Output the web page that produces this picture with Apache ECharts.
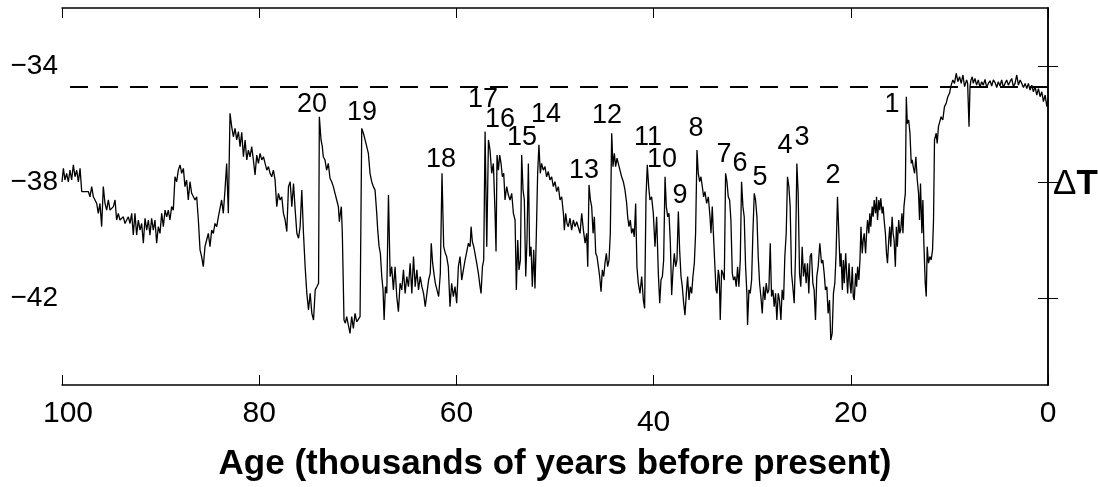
<!DOCTYPE html>
<html>
<head>
<meta charset="utf-8">
<script src="https://cdn.jsdelivr.net/npm/echarts@6/dist/echarts.min.js"></script>
<style>
html,body{margin:0;padding:0;background:#fff;}
#chart{width:1098px;height:487px;}
</style>
</head>
<body>
<div id="chart"></div>
<script>
// Age (thousands of years before present)
const ages = [
100.0,99.86,99.70,99.53,99.36,99.19,99.02,98.85,98.68,98.51,98.34,98.17,98.0,97.84,97.67,97.50,97.33,97.16,96.99,96.82,
96.65,96.48,96.32,96.15,95.98,95.81,95.64,95.47,95.30,95.13,94.96,94.79,94.62,94.46,94.29,94.12,93.95,93.78,93.61,93.44,
93.27,93.10,92.93,92.77,92.60,92.43,92.26,92.09,91.92,91.75,91.58,91.41,91.24,91.08,90.91,90.74,90.57,90.40,90.23,90.06,
89.89,89.72,89.55,89.38,89.22,89.05,88.88,88.71,88.54,88.37,88.20,88.03,87.86,87.69,87.53,87.36,
87.19,87.02,86.85,86.68,86.51,86.34,86.17,86.0,85.84,85.67,85.50,85.33,85.16,84.99,84.82,84.65,84.48,84.31,84.14,83.97,
83.81,83.64,83.47,83.30,83.13,82.96,82.79,82.62,82.45,82.28,82.11,81.94,81.77,81.60,81.43,81.26,81.10,80.93,80.76,80.59,
80.42,80.25,80.08,79.91,79.74,79.57,79.40,79.23,79.06,78.90,78.73,78.56,78.39,78.22,78.05,77.88,77.71,77.54,77.37,77.20,
77.03,76.86,76.69,76.52,76.35,76.18,76.01,75.85,75.68,75.51,75.34,75.17,75.0,74.83,74.66,74.49,74.32,74.15,73.98,
73.90,73.73,73.60,73.50,73.33,73.16,72.99,72.82,72.65,72.48,72.31,72.14,71.97,71.87,71.77,71.67,71.57,71.40,71.26,71.13,
70.96,70.79,70.62,70.45,70.28,70.11,69.94,69.77,69.60,69.43,69.26,69.09,68.93,68.76,68.59,68.42,68.25,68.08,67.98,67.84,
67.71,67.57,67.44,67.33,67.20,67.06,66.89,66.72,66.56,66.39,66.22,66.05,65.88,65.71,65.54,65.37,65.20,65.03,64.86,64.69,
64.52,64.35,64.18,64.01,63.84,63.67,63.50,63.33,63.16,62.99,62.82,62.65,62.55,62.41,62.28,62.14,61.97,61.80,61.63,61.46,
61.29,61.12,60.99,60.82,60.65,60.48,60.31,60.14,59.97,59.80,59.63,59.46,59.29,59.12,58.95,58.78,58.61,58.51,58.38,58.24,
58.11,57.94,57.77,57.60,57.50,57.36,57.23,57.09,56.92,56.75,56.59,56.42,56.25,56.08,55.98,55.88,55.74,55.61,55.47,55.34,
55.20,55.07,54.90,54.73,54.56,54.39,54.22,54.05,53.92,53.78,53.65,53.51,53.38,53.24,53.11,52.97,52.84,52.70,52.57,52.43,
52.30,52.16,52.03,51.89,51.76,51.63,51.49,51.36,51.19,51.02,50.85,50.68,50.51,50.34,50.17,50.0,49.83,49.66,49.49,49.32,
49.15,49.05,48.92,48.78,48.65,48.48,48.31,48.14,47.97,47.80,
47.63,47.46,47.29,47.12,46.95,46.79,46.68,46.55,46.41,46.28,46.14,46.01,45.87,45.74,45.60,45.47,45.33,45.20,45.06,44.93,
44.79,44.66,44.52,44.39,44.25,44.12,43.98,43.85,43.71,43.58,43.41,43.24,43.07,42.90,42.73,42.63,42.50,42.36,42.23,42.09,
41.96,41.82,41.69,41.55,41.38,41.21,41.04,40.91,40.77,40.64,40.50,40.37,40.20,40.03,39.86,39.69,39.52,39.38,39.25,39.11,
38.98,38.84,38.71,38.57,38.44,38.30,38.17,38.03,37.90,37.76,37.63,37.49,37.36,37.22,37.09,36.95,36.82,36.68,36.55,36.41,
36.28,36.14,36.01,35.87,35.74,35.60,35.47,35.33,35.20,35.06,34.93,34.79,34.62,
34.45,34.28,34.18,34.05,33.95,33.78,33.67,33.57,33.44,33.34,33.24,33.10,32.97,32.83,32.70,32.56,32.43,32.29,32.16,32.02,
31.89,31.75,31.62,31.48,31.35,31.21,31.08,30.94,30.81,30.67,30.54,30.47,30.33,30.20,30.06,29.93,29.79,29.66,29.52,29.39,
29.25,29.12,28.98,28.85,28.71,28.58,28.44,28.31,28.17,28.04,27.90,27.77,27.63,27.50,27.36,27.23,27.09,26.96,26.82,26.69,
26.55,26.42,26.28,26.15,26.01,25.88,25.74,25.61,25.47,25.34,25.20,25.07,24.93,24.80,24.66,24.53,24.39,24.26,24.12,23.99,
23.85,23.72,23.58,23.45,23.31,23.14,22.97,22.84,22.70,22.57,22.43,22.30,22.16,22.03,21.89,21.76,21.62,21.49,21.35,
21.19,21.09,20.99,20.86,20.76,20.66,20.52,20.42,20.32,20.18,20.08,19.98,19.85,19.75,19.65,19.51,19.41,19.31,19.18,19.07,
18.97,18.84,18.74,18.64,18.50,18.40,18.30,18.17,18.07,17.97,17.83,17.73,17.63,17.49,17.39,17.29,17.16,17.06,16.96,16.82,
16.72,16.62,16.49,16.38,16.28,16.15,16.05,15.95,15.81,15.71,15.61,15.48,15.38,15.28,15.14,15.04,14.94,14.81,14.71,14.61,
14.47,14.37,14.27,14.13,14.00,13.87,13.77,13.67,13.53,13.40,13.26,13.13,13.03,12.93,12.79,12.69,12.59,12.45,12.35,12.25,
12.12,11.98,11.85,11.71,11.61,11.51,11.34,11.24,11.11,10.97,10.84,10.67,10.50,10.33,10.16,9.99,9.82,9.65,9.48,9.31,
9.14,8.97,8.80,8.63,8.46,8.25,8.15,8.01,7.91,7.81,7.68,7.58,7.41,7.24,7.07,6.90,6.73,6.56,6.39,6.22,
6.05,5.88,5.71,5.54,5.37,5.20,5.04,4.87,4.70,4.53,4.36,4.19,4.02,3.85,3.68,3.51,3.34,3.17,3.00,2.83,
2.66,2.49,2.32,2.15,1.99,1.82,1.65,1.48,1.31,1.14,0.97,0.80,0.63,0.46,0.29,0.12,0.0
];
// Temperature anomaly (ΔT)
const temps = [
-38.0,-37.53,-37.93,-37.70,-38.0,-37.59,-37.93,-37.41,-37.82,-37.59,-38.0,-37.53,-38.33,-38.28,-38.33,-38.39,-38.33,-38.51,-38.16,-38.51,
-38.62,-38.74,-39.08,-38.74,-39.54,-38.16,-38.74,-38.97,-38.62,-38.97,-38.91,-38.85,-38.62,-39.31,-39.08,-39.31,-39.37,-39.20,-39.43,-39.31,
-39.20,-39.43,-39.08,-39.83,-39.08,-39.83,-39.31,-39.66,-39.43,-40.11,-39.25,-39.66,-39.31,-39.83,-39.25,-39.66,-39.31,-40.11,-39.54,-39.77,
-39.08,-39.54,-38.97,-39.20,-38.97,-39.31,-38.85,-38.97,-37.82,-37.99,-37.59,-37.41,-37.70,-37.53,-38.16,-37.93,
-38.62,-37.99,-38.39,-38.33,-38.62,-38.51,-39.31,-40.34,-40.57,-40.92,-40.23,-40.0,-39.77,-40.23,-39.66,-39.77,-39.43,-39.54,-39.20,-39.14,
-38.62,-39.08,-38.28,-37.36,-39.08,-35.63,-36.09,-36.44,-36.15,-36.55,-36.26,-36.78,-36.29,-37.13,-36.55,-37.24,-36.90,-37.13,-36.78,-37.24,
-37.76,-37.07,-37.36,-37.01,-37.24,-37.13,-37.36,-37.59,-37.47,-37.70,-37.82,-37.59,-37.93,-38.85,-38.39,-38.62,-38.51,-39.08,-39.31,-39.71,
-38.16,-37.99,-38.85,-38.05,-38.97,-39.77,-39.94,-39.54,-38.28,-39.77,-40.92,-41.84,-42.41,-41.84,-42.53,-42.76,-41.72,-41.61,-41.49,
-35.75,-36.55,-36.78,-37.13,-37.24,-37.59,-37.36,-37.87,-37.99,-38.16,-38.39,-38.62,-38.85,-39.37,-39.08,-38.85,-39.77,-42.76,-42.87,-42.64,
-42.93,-43.22,-42.64,-43.05,-42.53,-42.82,-42.87,-42.64,-36.15,-36.32,-36.55,-36.78,-37.01,-37.70,-37.99,-38.16,-38.28,-39.08,-39.66,-40.23,
-40.46,-41.26,-41.72,-42.76,-41.61,-41.84,-38.45,-41.26,-40.92,-41.72,-40.92,-41.95,-42.47,-41.49,-41.72,-41.03,-41.84,-41.26,-41.61,-40.80,
-41.84,-40.57,-41.61,-41.03,-41.72,-41.26,-41.61,-41.84,-42.30,-41.84,-41.38,-41.15,-40.11,-40.80,-41.15,-41.49,-41.72,-41.95,-41.15,-37.70,
-40.23,-40.46,-40.57,-40.92,-42.30,-41.49,-41.95,-41.61,-42.18,-40.92,-40.57,-41.38,-41.03,-40.69,-40.40,-40.11,-40.23,-39.54,-40.06,-40.23,
-40.17,-40.80,-41.15,-41.61,-41.84,-40.92,-40.69,-36.26,-40.23,-36.55,-36.90,-37.70,-37.36,-39.08,-40.40,-37.07,-37.59,-37.07,-37.36,-37.82,
-37.70,-38.62,-38.16,-38.45,-38.62,-38.39,-39.08,-39.31,-41.72,-40.0,-41.03,-40.69,-37.07,-38.28,-38.62,-41.26,-40.0,-37.36,-40.57,-40.23,
-41.61,-40.34,-41.67,-39.77,-37.70,-36.72,-37.70,-37.36,-37.59,-37.47,-37.82,-37.64,-37.93,-37.82,-38.16,-37.99,-38.33,-38.16,-38.62,-38.51,
-39.08,-39.66,-39.08,-39.43,-39.54,-39.25,-39.66,-39.31,-39.54,-39.37,
-39.31,-39.77,-39.08,-39.66,-40.11,-39.77,-40.92,-38.10,-38.62,-38.85,-39.77,-39.20,-40.46,-40.57,-40.92,-41.26,-41.78,-41.03,-41.26,-40.80,
-40.46,-40.92,-40.69,-39.77,-36.32,-37.47,-37.01,-37.47,-37.18,-37.36,-37.59,-37.82,-37.99,-38.28,-38.74,-39.20,-39.54,-39.31,-39.77,-39.60,
-39.89,-38.74,-40.92,-41.49,-41.84,-41.26,-42.07,-42.36,-38.51,-37.41,-38.16,-38.62,-38.51,-39.08,-40.23,-39.20,-41.15,-42.18,-41.38,-41.26,
-40.69,-37.82,-38.85,-39.20,-39.08,-40.11,-41.90,-41.03,-40.46,-40.92,-40.69,-39.02,-40.34,-41.26,-41.61,-42.18,-42.59,-41.84,-41.26,-42.07,
-41.61,-41.84,-41.26,-40.80,-39.77,-36.90,-37.70,-37.99,-37.82,-38.16,-38.51,-38.33,-38.74,
-38.51,-39.20,-39.77,-38.85,-39.66,-40.92,-41.72,-41.84,-41.03,-41.26,-42.76,-41.03,-41.15,-41.38,-37.70,-37.99,-38.51,-38.62,-39.31,-41.15,
-41.38,-41.26,-41.61,-40.92,-41.61,-40.69,-37.99,-38.85,-39.20,-40.92,-41.84,-42.93,-41.72,-41.84,-41.38,-39.77,-38.39,-38.62,-39.20,-40.57,
-41.49,-41.95,-42.53,-41.61,-42.07,-41.49,-41.84,-41.72,-40.11,-41.95,-41.72,-42.30,-41.84,-42.76,-41.84,-42.07,-42.76,-41.72,-42.07,-40.57,
-39.77,-37.82,-38.16,-38.85,-41.15,-41.61,-42.18,-40.57,-37.36,-38.39,-41.15,-41.61,-40.23,-41.26,-40.80,-41.49,-40.80,-41.84,-40.57,-40.46,
-41.49,-41.72,-42.76,-41.26,-40.92,-40.11,-40.80,-40.69,-41.15,-41.72,-41.61,-42.53,-42.07,-43.45,-43.22,-41.84,-41.49,-40.46,-38.51,
-40.0,-40.92,-40.46,-41.72,-40.69,-41.49,-40.46,-41.15,-41.84,-40.80,-41.49,-41.84,-40.92,-41.95,-42.07,-41.15,-41.61,-40.92,-41.38,-40.69,
-39.54,-40.46,-40.0,-39.77,-40.46,-39.77,-39.31,-39.77,-39.08,-39.54,-38.85,-39.20,-38.62,-39.08,-38.51,-39.31,-38.62,-38.97,-38.56,-39.08,
-38.85,-39.31,-39.77,-40.46,-40.80,-40.0,-39.54,-40.23,-39.20,-39.77,-40.0,-40.92,-39.54,-40.23,-39.31,-39.77,-39.66,-39.08,-39.77,-38.85,
-38.39,-35.06,-35.98,-35.86,-36.32,-37.36,-37.24,-37.47,-37.70,-37.13,-37.93,-38.39,-39.31,-38.05,-39.77,-38.62,-40.11,-41.49,-41.95,-40.23,
-40.80,-40.57,-40.69,-40.34,-39.31,-36.55,-36.32,-36.67,-36.09,-36.09,-35.75,-35.86,-35.40,-35.29,-35.06,-34.94,-34.66,-34.48,-34.60,-34.25,
-34.54,-34.37,-34.60,-34.31,-34.71,-34.48,-34.60,-36.09,-34.71,-34.48,-34.37,-34.60,-34.43,-34.66,-34.48,-34.74,-34.54,-34.66,-34.46,-34.74,
-34.60,-34.51,-34.69,-34.48,-34.57,-34.74,-34.54,-34.69,-34.48,-34.74,-34.60,-34.48,-34.66,-34.54,-34.43,-34.71,-34.60,-34.31,-34.66,-34.48,
-34.60,-34.74,-34.60,-34.78,-34.60,-34.83,-34.66,-34.89,-34.71,-35.00,-34.78,-35.06,-34.89,-35.23,-35.00,-35.40,-35.11
];
// Interstadial event labels and where they sit (age, ΔT)
const peakNames = ['20','19','18','17','16','15','14','13','12','11','10','9','8','7','6','5','4','3','2','1'];
const peakAges  = [74.65,69.57,61.56,57.30,55.58,53.35,50.91,47.06,44.73,40.57,39.15,37.32,35.70,32.86,31.24,29.21,26.67,24.95,21.81,15.82];
const peakTemps = [-35.34,-35.62,-37.24,-35.17,-35.86,-36.48,-35.69,-37.59,-35.72,-36.45,-37.24,-38.48,-36.14,-37.07,-37.38,-37.83,-36.76,-36.45,-37.79,-35.34];
const holoceneMean = -34.7;
const yTicks = [-42, -38, -34];
const xMin = 0, xMax = 100, xStep = 20;
const yMin = -45, yMax = -32;

const FONT = "'Liberation Sans', Arial, Helvetica, sans-serif";
const chart = echarts.init(document.getElementById('chart'), null, {renderer: 'canvas'});
const lineData = ages.map((a, i) => [a, temps[i]]);
const peakData = peakAges.map((a, i) => [a, peakTemps[i], peakNames[i]]);

const axisLine = {show: true, lineStyle: {color: '#000', width: 1.5}};
const tick = {show: true, inside: true, length: 10, lineStyle: {color: '#000', width: 1}};

chart.setOption({
  animation: false,
  backgroundColor: '#fff',
  grid: {left: 62, right: 50, top: 8, bottom: 102, containLabel: false, outerBoundsMode: 'none'},
  xAxis: [{
    type: 'value', min: xMin, max: xMax, interval: xStep, inverse: true, position: 'bottom',
    axisLine: axisLine, axisTick: tick, splitLine: {show: false},
    axisLabel: {
      margin: 14, color: '#000', fontSize: 30, fontFamily: FONT,
      formatter: v => v === 40 ? '{low|' + v + '}' : (v === 100 ? '{r|' + v + '}' : '{n|' + v + '}'),
      rich: {
        n: {fontSize: 30, fontFamily: FONT, color: '#000'},
        low: {fontSize: 30, fontFamily: FONT, color: '#000', padding: [9, 0, 0, 0]},
        r: {fontSize: 30, fontFamily: FONT, color: '#000', padding: [0, 0, 0, 12]}
      }
    },
    name: 'Age (thousands of years before present)', nameLocation: 'middle', nameGap: 62,
    nameTextStyle: {fontSize: 35, fontWeight: 'bold', color: '#000', fontFamily: FONT}
  }, {
    type: 'value', min: xMin, max: xMax, interval: xStep, inverse: true, position: 'top',
    axisLine: axisLine, axisTick: tick, axisLabel: {show: false}, splitLine: {show: false}
  }],
  yAxis: [{
    type: 'value', min: yMin, max: yMax, position: 'left',
    axisLine: axisLine,
    axisTick: Object.assign({customValues: yTicks}, tick),
    axisLabel: {customValues: yTicks, margin: 4, color: '#000', fontSize: 28, fontFamily: FONT,
      formatter: v => '\u2212' + Math.abs(v)},
    splitLine: {show: false}
  }, {
    type: 'value', min: yMin, max: yMax, position: 'right',
    axisLine: axisLine,
    axisTick: Object.assign({customValues: yTicks}, tick),
    axisLabel: {show: false}, splitLine: {show: false},
    name: '{d|\u0394}{t|T}', nameLocation: 'middle', nameRotate: 0, nameGap: 5,
    nameTextStyle: {
      align: 'left', verticalAlign: 'middle', padding: [0, 0, 24, 0],
      rich: {
        d: {fontSize: 35, fontFamily: FONT, color: '#000'},
        t: {fontSize: 35, fontWeight: 'bold', fontFamily: FONT, color: '#000'}
      }
    }
  }],
  series: [{
    type: 'line', data: lineData, showSymbol: false, symbol: 'none',
    lineStyle: {color: '#000', width: 1.3}, z: 3,
    markLine: {
      silent: true, symbol: ['none', 'none'], label: {show: false},
      lineStyle: {color: '#000', width: 2, type: [18, 12]},
      data: [{yAxis: holoceneMean}]
    }
  }, {
    type: 'scatter', data: peakData, symbolSize: 0.1,
    itemStyle: {color: '#000', opacity: 1},
    label: {show: true, position: 'inside', formatter: p => p.data[2],
      color: '#000', opacity: 1, textBorderWidth: 0, fontSize: 27, fontFamily: FONT},
    z: 4
  }]
});
</script>
</body>
</html>
